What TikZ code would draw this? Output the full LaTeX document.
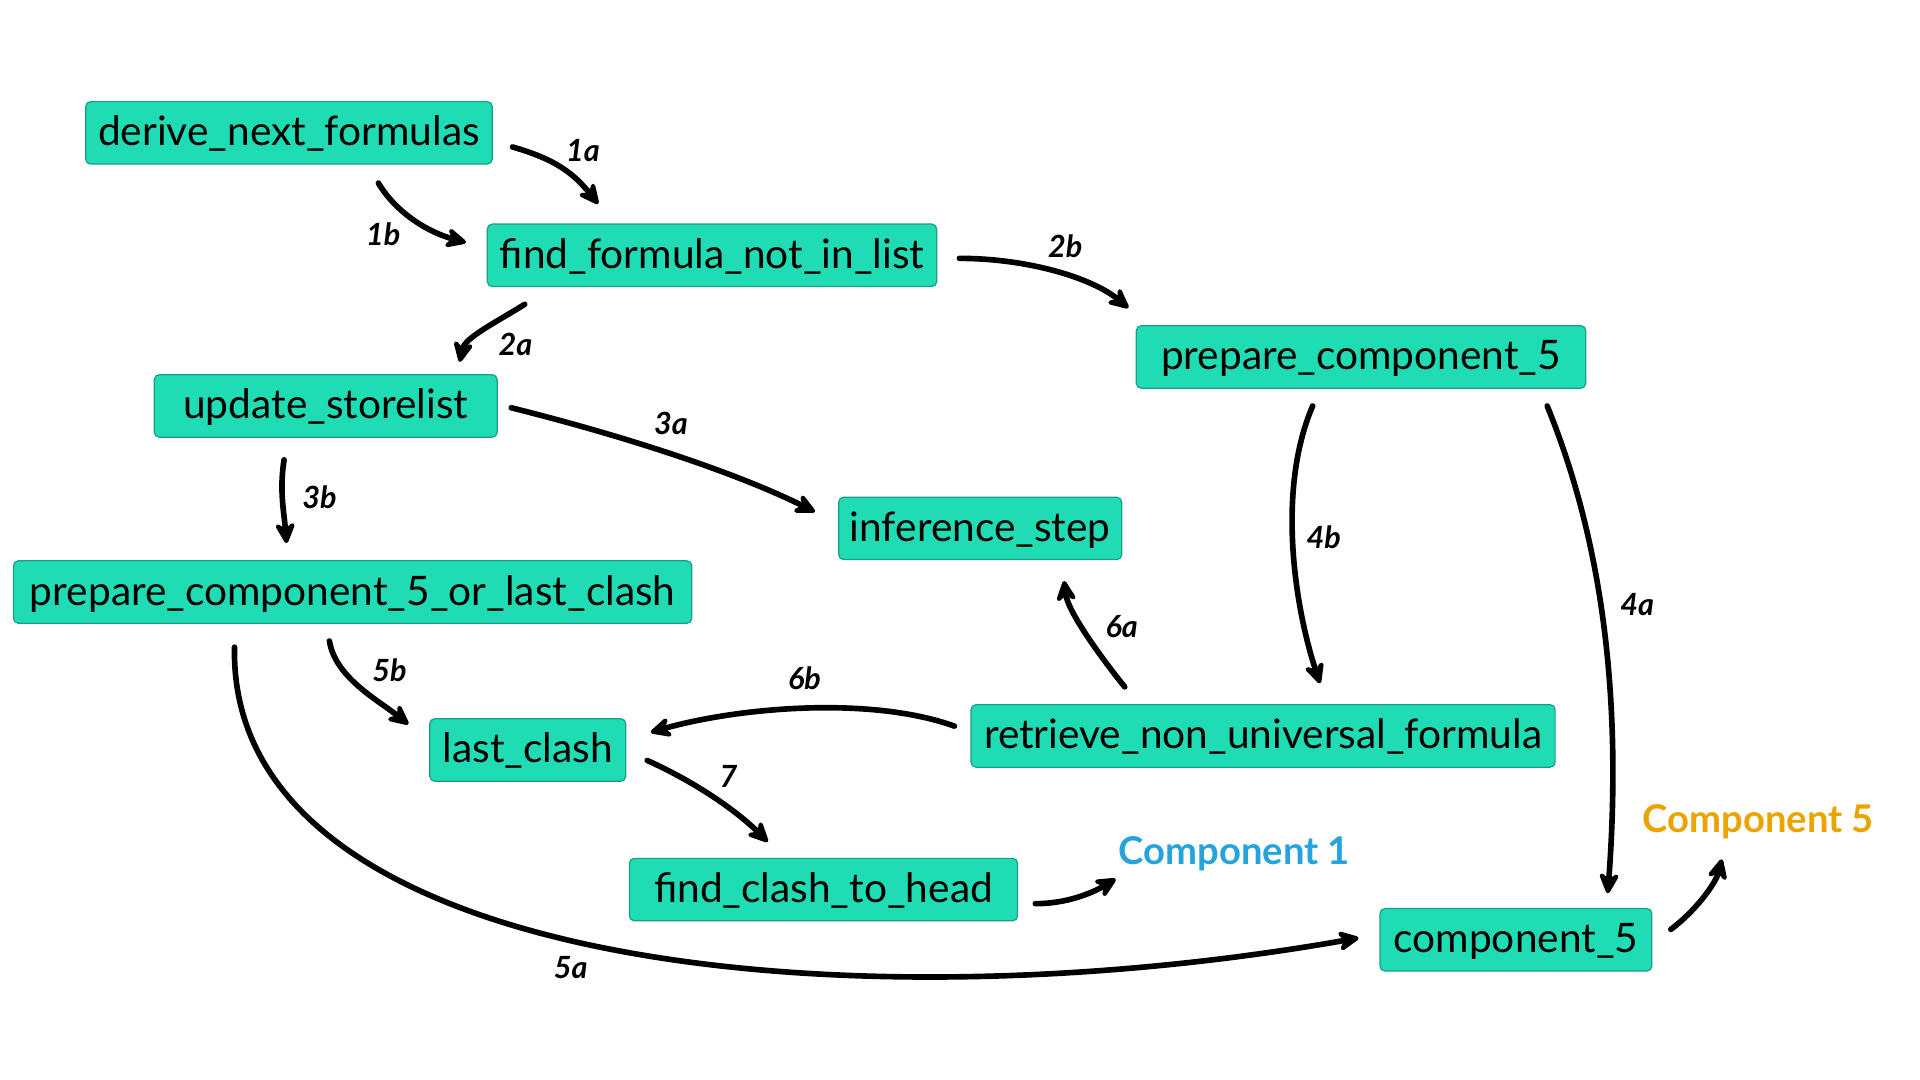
\documentclass[tikz,border=0pt]{standalone}
\usepackage{fontspec}
\setmainfont{Lato}
\usetikzlibrary{arrows.meta,calc}
\definecolor{boxfill}{HTML}{20DCB4}
\definecolor{boxline}{HTML}{17A084}
\definecolor{compblue}{HTML}{26A3DB}
\definecolor{comporange}{HTML}{E9A400}
\tikzset{
  fn/.style={draw=boxline, line width=0.5pt, fill=boxfill, rounded corners=2pt,
    minimum height=25.5pt, inner xsep=3pt, inner ysep=0pt,
    text height=12.8pt, text depth=2.2pt,
    font=\fontsize{16.6}{19}\selectfont, text=black},
  arr/.style={line width=2.3pt, line cap=round,
    -{Stealth[length=11pt,width=10.5pt,inset=4pt,round]}},
  elab/.style={font=\fontsize{12.5}{14}\selectfont\bfseries\itshape, inner sep=0pt},
  comp/.style={font=\fontsize{15.6}{18}\selectfont\bfseries, inner sep=0pt}
}
\begin{document}
\begin{tikzpicture}[x=0.5pt,y=-0.5pt]
\useasboundingbox (0,0) rectangle (1568,882);

% function boxes
\node[fn, minimum width=166pt]   (dnf)    at (236,108.5)   {derive\_next\_formulas};
\node[fn, minimum width=183.5pt] (ffn)    at (581.5,208.5) {find\_formula\_not\_in\_list};
\node[fn, minimum width=183.5pt] (pc5)    at (1111.5,291.5){prepare\_component\_5};
\node[fn, minimum width=140pt]   (usl)    at (266,331.5)   {update\_storelist};
\node[fn, minimum width=115.5pt] (inf)    at (800.5,431.5) {inference\_step};
\node[fn, minimum width=277pt]   (pc5olc) at (288,483.5)   {prepare\_component\_5\_or\_last\_clash};
\node[fn, minimum width=80pt]    (lc)     at (431,612.5)   {last\_clash};
\node[fn, minimum width=238.5pt] (rnu)    at (1031.5,601)  {retrieve\_non\_universal\_formula};
\node[fn, minimum width=158.5pt] (fch)    at (672.5,726.5) {find\_clash\_to\_head};
\node[fn, minimum width=111pt]   (c5)     at (1238,767.5)  {component\_5};

% component labels
\node[comp, text=compblue]   (comp1) at (1008,697) {Component 1};
\node[comp, text=comporange] (comp5) at (1436,671) {Component 5};

% connectors
\draw[arr] ($(dnf.east)+(16,11.5)$) .. controls +(35,10) and +(-20,-25) .. ($(ffn.north west)+(91,-16)$);
\draw[arr] ($(dnf.south)+(73,15)$) .. controls +(15,25) and +(-30,-8) .. ($(ffn.west)+(-17,-10.5)$);
\draw[arr] ($(ffn.east)+(18,2.5)$) .. controls +(55,0) and +(-30,-25) .. ($(pc5.north west)+(-6,-14)$);
\draw[arr] ($(ffn.south west)+(31,14)$) .. controls +(-22,14) and +(4,-20) .. ($(usl.north east)+(-31,-10)$);
\draw[arr] ($(usl.east)+(11,1.5)$) .. controls +(100,25) and +(-60,-30) .. ($(inf.west)+(-19,-13.5)$);
\draw[arr] ($(usl.south)+(-34,18)$) .. controls +(-4,25) and +(-2,-25) .. ($(pc5olc.north)+(-54,-14)$);
\draw[arr] ($(pc5.south)+(-39.5,14)$) .. controls +(-30,70) and +(-20,-60) .. ($(rnu.north)+(46.5,-17)$);
\draw[arr] ($(pc5.south east)+(-32,14)$) .. controls +(45,110) and +(12,-160) .. ($(c5.north)+(75,-12)$);
\draw[arr] ($(pc5olc.south)+(-19,14)$) .. controls +(5,30) and +(-25,-20) .. ($(lc.north west)+(-17,5)$);
\draw[arr] ($(pc5olc.south west)+(181,19)$) .. controls +(-5,262) and +(-420,74) .. ($(c5.west)+(-17,-1.5)$);
\draw[arr] ($(rnu.north west)+(126,-14)$) .. controls +(-20,-25) and +(3,25) .. ($(inf.south)+(68.5,17)$);
\draw[arr] ($(rnu.west)+(-13,-8)$) .. controls +(-70,-25) and +(70,-20) .. ($(lc.east)+(20,-14.5)$);
\draw[arr] ($(lc.east)+(17,8.5)$) .. controls +(40,18) and +(-25,-25) .. ($(fch.north)+(-45.5,-13)$);
\draw[arr] ($(fch.east)+(14,11.5)$) .. controls +(25,0) and +(-20,12) .. ($(comp1.base west)+(-2,12)$);
\draw[arr] ($(c5.east)+(15,-8.5)$) .. controls +(20,-15) and +(-5,20) .. ($(comp5.base west)+(65,22)$);

% connector labels
\node[elab] (l1a) at (476,123) {1a};
\node[elab] (l1b) at (313,191) {1b};
\node[elab] (l2b) at (870,201) {2b};
\node[elab] (l2a) at (421,281) {2a};
\node[elab] (l3a) at (548,346) {3a};
\node[elab] (l3b) at (261,406) {3b};
\node[elab] (l4b) at (1081,439) {4b};
\node[elab] (l4a) at (1337,494) {4a};
\node[elab] (l5b) at (318,547) {5b};
\node[elab] (l5a) at (466,790) {5a};
\node[elab] (l6a) at (916,512) {6a};
\node[elab] (l6b) at (657,554) {6b};
\node[elab] (l7)  at (595,634) {7};
\end{tikzpicture}
\end{document}
